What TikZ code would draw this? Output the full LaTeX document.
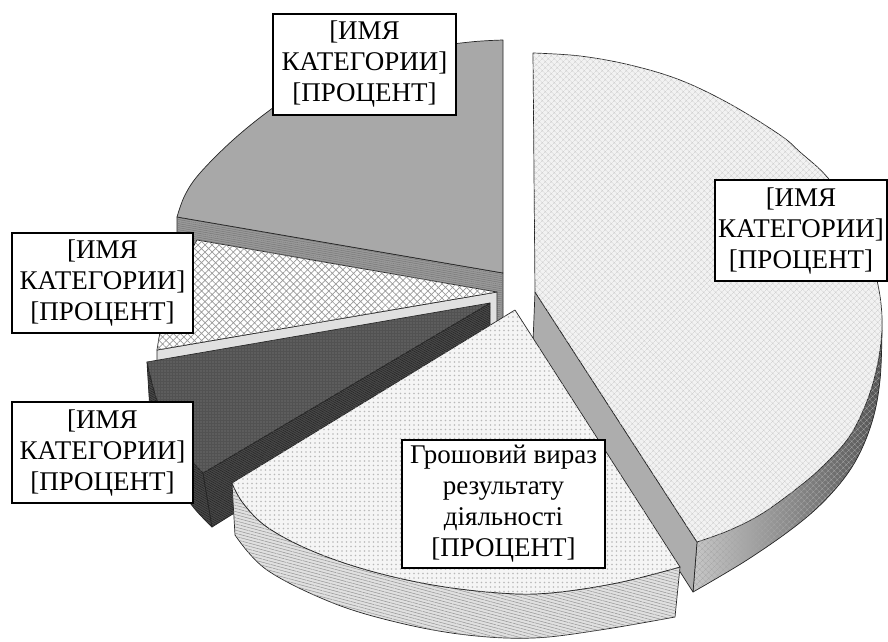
\documentclass[tikz,border=0pt]{standalone}
\usepackage{fontspec}
\setmainfont{Liberation Serif}
\usetikzlibrary{patterns.meta}
\begin{document}
\begin{tikzpicture}[x=1pt,y=-1pt,
  edge/.style={draw=black!85,line width=0.7pt,line join=round},
  lbl/.style={draw=black,line width=2.5pt,fill=white,align=center,inner sep=0pt,
    font=\fontsize{27}{31}\selectfont},
  rtop/.style={edge,fill=black!5,postaction={pattern={Hatch[angle=45,distance=4pt,line width=0.3pt]},pattern color=black!20}},
  rcut/.style={edge,fill=black!32},
  gtop/.style={edge,fill=black!34},
  gcut/.style={edge,fill=black!40,postaction={pattern={Lines[angle=-10,distance=2pt,line width=0.4pt]},pattern color=black!55}},
  xtop/.style={edge,fill=white,postaction={pattern={Hatch[angle=45,distance=5pt,line width=0.7pt]},pattern color=black!40}},
  xcut/.style={edge,fill=black!12},
  dtop/.style={edge,fill=black!68,postaction={pattern={Dots[distance=3pt,radius=0.6pt]},pattern color=black!48}},
  dcut/.style={edge,fill=black!72,postaction={pattern={Lines[angle=-30,distance=2pt,line width=0.4pt]},pattern color=black!88}},
  btop/.style={edge,fill=black!4,postaction={pattern={Dots[distance=4.5pt,radius=0.8pt]},pattern color=black!28}},
  bside/.style={edge,fill=black!12,postaction={pattern={Lines[angle=-15,distance=3pt,line width=0.5pt]},pattern color=black!42}}
  ]
\fill[white] (0,0) rectangle (888,641);
\useasboundingbox (0,0) rectangle (888,641);

% ---- gray slice (back, top) ----
\path[gcut] (177,217) -- (503,273) -- (503,323) -- (177,267) -- cycle;
\path[gtop] (503,273) -- (503,40) -- plot[smooth,tension=0.6] coordinates
  {(503,40) (470,42) (420,49) (360,63) (310,83) (270,110) (233,140) (200,173) (185,195) (177,217)} -- cycle;

% ---- right big slice ----
\shade[left color=black!22,right color=black!68]
  plot[smooth,tension=0.6] coordinates {(697,542) (730,530) (763,513) (800,486) (823,466) (847,440) (862,413) (873,383) (880,350) (882,318)}
  -- plot[smooth,tension=0.6] coordinates {(882,330) (880,380) (872,422) (855,462) (830,495) (797,525) (747,560) (693,592)} -- cycle;
\path[pattern={Hatch[angle=45,distance=4pt,line width=0.3pt]},pattern color=black!35]
  plot[smooth,tension=0.6] coordinates {(697,542) (730,530) (763,513) (800,486) (823,466) (847,440) (862,413) (873,383) (880,350) (882,318)}
  -- plot[smooth,tension=0.6] coordinates {(882,330) (880,380) (872,422) (855,462) (830,495) (797,525) (747,560) (693,592)} -- cycle;
\draw[edge] (697,542) -- (693,592)
  -- plot[smooth,tension=0.6] coordinates {(693,592) (747,560) (797,525) (830,495) (855,462) (872,422) (880,380) (882,330)};
\path[rcut] (535,292) -- (697,542) -- (693,592) -- (533,342) -- cycle;
\path[rtop] (533,53) -- (535,292) -- (697,542) -- plot[smooth,tension=0.6] coordinates
  {(697,542) (730,530) (763,513) (800,486) (823,466) (847,440) (862,413) (873,383) (880,350) (882,318) (878,285) (868,250) (852,215) (828,178) (800,152) (780,135) (730,104) (680,80) (630,65) (580,56) (533,53)} -- cycle;

% ---- cross-hatch slice ----
\path[xcut] (157,350) -- (497,292) -- (497,342) -- (157,400) -- cycle;
\path[xtop] (497,292) -- (197,240) -- plot[smooth,tension=0.6] coordinates
  {(197,240) (182,268) (170,295) (162,322) (157,350)} -- cycle;

% ---- dark slice ----
\path[dcut] plot[smooth,tension=0.6] coordinates {(147,362) (157,400) (172,432) (187,455) (203,473)}
  -- (212,527) -- plot[smooth,tension=0.6] coordinates {(212,527) (194,508) (178,484) (162,450) (150,412)} -- cycle;
\path[dcut] (203,473) -- (490,303) -- (490,353) -- (212,527) -- cycle;
\path[dtop] (490,303) -- (147,362) -- plot[smooth,tension=0.6] coordinates
  {(147,362) (157,400) (172,432) (187,455) (203,473)} -- cycle;

% ---- bottom slice ----
\path[bside] (232,483) -- (235,535) -- plot[smooth,tension=0.6] coordinates
  {(235,535) (267,570) (333,603) (400,623) (467,635) (533,638) (600,630) (675,617)}
  -- (680,567) -- plot[smooth,tension=0.6] coordinates
  {(680,567) (617,583) (550,593) (500,593) (433,585) (367,570) (310,550) (267,527) (243,503) (232,483)} -- cycle;
\path[btop] (515,310) -- (680,567) -- plot[smooth,tension=0.6] coordinates
  {(680,567) (617,583) (550,593) (500,593) (433,585) (367,570) (310,550) (267,527) (243,503) (232,483)} -- cycle;

% ---- labels ----
\node[lbl,minimum width=183pt,minimum height=101pt] (ltop) at (364.5,64.5) {[ИМЯ\\КАТЕГОРИИ]\\{}[ПРОЦЕНТ]};
\node[lbl,minimum width=172pt,minimum height=101pt] (lright) at (801,230.5) {[ИМЯ\\КАТЕГОРИИ]\\{}[ПРОЦЕНТ]};
\node[lbl,minimum width=181pt,minimum height=100pt] (lmid) at (102.5,283) {[ИМЯ\\КАТЕГОРИИ]\\{}[ПРОЦЕНТ]};
\node[lbl,minimum width=181pt,minimum height=101pt] (llow) at (102.5,452.5) {[ИМЯ\\КАТЕГОРИИ]\\{}[ПРОЦЕНТ]};
\node[lbl,minimum width=203pt,minimum height=128pt] (lbot) at (503.5,504) {Грошовий вираз\\результату\\діяльності\\{}[ПРОЦЕНТ]};
\end{tikzpicture}
\end{document}
